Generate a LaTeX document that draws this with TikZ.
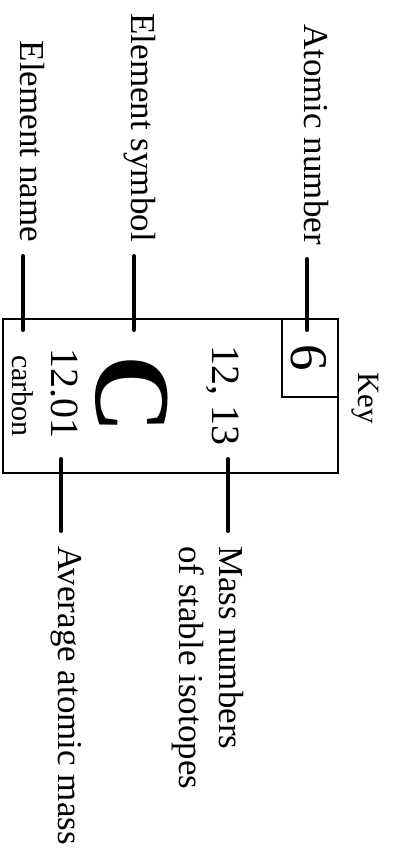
\documentclass[tikz,border=0pt]{standalone}
\usepackage{fontspec}
\setmainfont{Liberation Serif}
\usepackage{tikz}
\tikzset{
  lbl/.style={rotate=-90, inner sep=0, font=\fontsize{35}{40}\selectfont},
  tick/.style={line width=4pt, line cap=round},
  frame/.style={line width=2pt}
}

\begin{document}
\begin{tikzpicture}[x=1pt,y=-1pt]
\useasboundingbox (0,0) rectangle (395,857);
% key box
\draw[frame] (3,319) rectangle (338,473);
\draw[frame] (282,319) rectangle (338,397);
\node[rotate=-90, inner sep=0, anchor=base, font=\fontsize{31}{36}\selectfont] (keytitle) at (358,398) {Key};
\node[rotate=-90, inner sep=0, anchor=base, font=\fontsize{53}{60}\selectfont] (numsix) at (291,358) {6};
\node[rotate=-90, inner sep=0, anchor=base, font=\fontsize{40}{46}\selectfont] (isotopes) at (212,395) {12, 13};
\node[rotate=-90, inner sep=0, anchor=base, font=\fontsize{108}{120}\selectfont\bfseries] (symC) at (96,394) {C};
\node[rotate=-90, inner sep=0, anchor=base, font=\fontsize{40}{46}\selectfont] (mass) at (51,393) {12.01};
\node[rotate=-90, inner sep=0, anchor=base, font=\fontsize{30}{34}\selectfont] (name) at (12.5,396) {carbon};
% labels
\node[lbl, anchor=mid east] (atomicnum) at (307,245) {Atomic number};
\node[lbl, anchor=mid east] (elemsym) at (134,242) {Element symbol};
\node[lbl, anchor=mid east] (elemname) at (23,242) {Element name};
\node[lbl, anchor=north west, align=left] (massnum) at (244,546) {Mass numbers\\of stable isotopes};
\node[lbl, anchor=mid west] (avgmass) at (61,546) {Average atomic mass};
% connectors
\coordinate (anumend) at (307,330);
\coordinate (symend) at (134,330);
\coordinate (nameend) at (23,330);
\coordinate (massend) at (228,459);
\coordinate (avgend) at (61,459);
\draw[tick, shorten <=14pt] (atomicnum.mid east) -- (anumend);
\draw[tick, shorten <=14pt] (elemsym.mid east) -- (symend);
\draw[tick, shorten <=14pt] (elemname.mid east) -- (nameend);
\draw[tick, shorten >=15pt] (massend) -- (massend |- massnum.north west);
\draw[tick, shorten >=15pt] (avgend) -- (avgmass.mid west);
\end{tikzpicture}
\end{document}
